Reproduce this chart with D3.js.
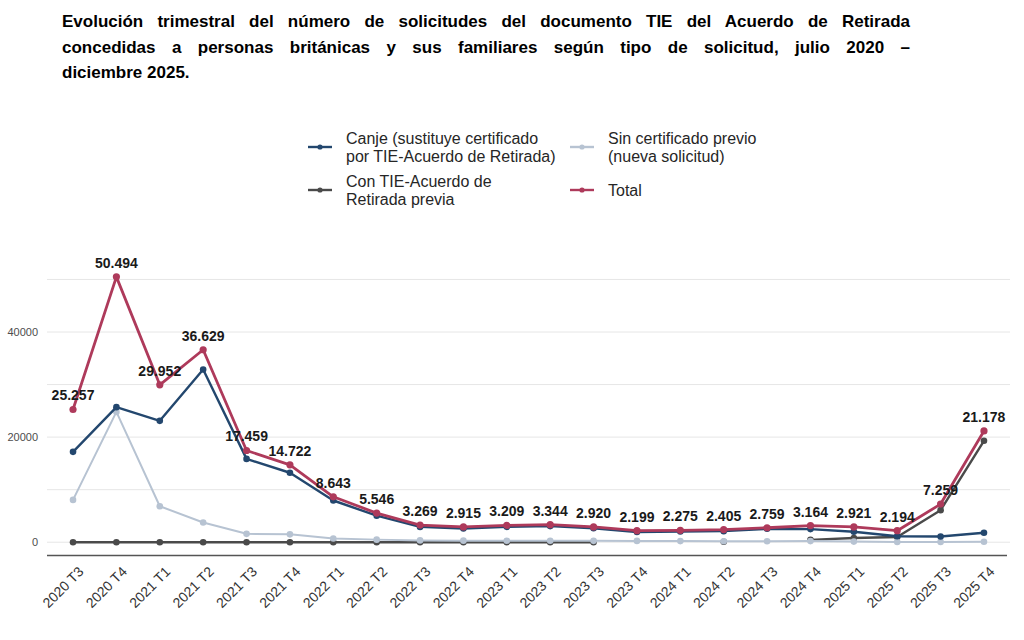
<!DOCTYPE html>
<html>
<head>
<meta charset="utf-8">
<script src="https://cdn.jsdelivr.net/npm/d3@7"></script>
<style>
    html, body { margin: 0; padding: 0; background: #fff; }
    #title {
        position: absolute;
        left: 62px;
        top: 9px;
        width: 848px;
        font-family: "Liberation Sans", Arial, sans-serif;
        font-weight: bold;
        font-size: 17px;
        line-height: 25.5px;
        color: #000;
    }
    #title .jl { text-align: justify; text-align-last: justify; }
    #chart { position: absolute; left: 0; top: 0; }
</style>
</head>
<body>
<div id="title">
    <div class="jl">Evolución trimestral del número de solicitudes del documento TIE del Acuerdo de Retirada</div>
    <div class="jl">concedidas a personas británicas y sus familiares según tipo de solicitud, julio 2020 –</div>
    <div>diciembre 2025.</div>
</div>
<div id="chart"></div>
<script>
// quarters on the x axis
const periods = ["2020 T3", "2020 T4", "2021 T1", "2021 T2", "2021 T3", "2021 T4",
    "2022 T1", "2022 T2", "2022 T3", "2022 T4", "2023 T1", "2023 T2", "2023 T3", "2023 T4",
    "2024 T1", "2024 T2", "2024 T3", "2024 T4", "2025 T1", "2025 T2", "2025 T3", "2025 T4"];

// series values (totals are labelled)
const canje = [17200, 25700, 23100, 32880, 15860, 13220, 7940, 5050, 2920, 2615, 2930, 3065,
    2660, 1950, 2055, 2105, 2560, 2500, 2000, 1150, 1100, 1800];
const sinCertificado = [8057, 24794, 6852, 3749, 1599, 1502, 703, 496, 349, 300, 279, 279,
    260, 249, 220, 200, 199, 214, 121, 44, 59, 78];
const conTie = [0, 0, 0, 0, 0, 0, 0, 0, 0, 0, 0, 0, 0, null, null, 100, null, 450, 800, 1000, 6100, 19300];
const total = [25257, 50494, 29952, 36629, 17459, 14722, 8643, 5546, 3269, 2915, 3209, 3344,
    2920, 2199, 2275, 2405, 2759, 3164, 2921, 2194, 7259, 21178];

const yTicks = [0, 20000, 40000];
const yGrid = [0, 10000, 20000, 30000, 40000, 50000];

// styling
const width = 1024;
const height = 640;
const panel = {left: 47, right: 1010, top: 263.6, bottom: 555.5};
const fontFamily = '"Liberation Sans", Arial, sans-serif';

const seriesList = [
    {key: "con", values: conTie, color: "#4a4a4a", width: 2.4, r: 3.3,
        label: ["Con TIE-Acuerdo de", "Retirada previa"]},
    {key: "sin", values: sinCertificado, color: "#b7c3d2", width: 2, r: 3.3,
        label: ["Sin certificado previo", "(nueva solicitud)"]},
    {key: "canje", values: canje, color: "#23476e", width: 2.4, r: 3.3,
        label: ["Canje (sustituye certificado", "por TIE-Acuerdo de Retirada)"]},
    {key: "total", values: total, color: "#ae3a5b", width: 2.8, r: 3.6,
        label: ["Total"]}
];

const es = d3.formatLocale({decimal: ",", thousands: ".", grouping: [3], currency: ["", " €"]});
const fmt = es.format(",d");

const svg = d3.select("#chart").append("svg")
    .attr("width", width)
    .attr("height", height)
    .style("font-family", fontFamily);

const x = d3.scalePoint()
    .domain(periods)
    .range([panel.left, panel.right])
    .padding(0.6);

const yMax = d3.max(total);
const expand = yMax * 0.05;
const y = d3.scaleLinear()
    .domain([-expand, yMax + expand])
    .range([panel.bottom, panel.top]);

// gridlines
svg.append("g")
    .selectAll("line")
    .data(yGrid)
    .join("line")
    .attr("x1", panel.left)
    .attr("x2", panel.right)
    .attr("y1", d => y(d))
    .attr("y2", d => y(d))
    .attr("stroke", "#e6e6e6")
    .attr("stroke-width", 1);

// y axis (labels only)
const yAxis = svg.append("g")
    .attr("transform", `translate(${panel.left - 9},0)`)
    .call(d3.axisLeft(y).tickValues(yTicks).tickFormat(d3.format("d")).tickSize(0).tickPadding(0));
yAxis.select(".domain").remove();
yAxis.selectAll("text")
    .attr("fill", "#4d4d4d")
    .style("font-size", "11px")
    .style("font-family", fontFamily);

// x axis
const xAxis = svg.append("g")
    .attr("transform", `translate(0,${panel.bottom})`)
    .call(d3.axisBottom(x).tickSize(0).tickPadding(0));
xAxis.select(".domain")
    .attr("d", `M${panel.left},0H${panel.right - 3}`)
    .attr("stroke", "#555")
    .attr("stroke-width", 1.3);
xAxis.selectAll("text")
    .attr("fill", "#333")
    .style("font-size", "14px")
    .style("font-family", fontFamily)
    .attr("text-anchor", "end")
    .attr("dy", null)
    .attr("y", 0)
    .attr("transform", "translate(11,17) rotate(-45)");

// lines and points
const line = d3.line()
    .defined(d => d != null)
    .x((d, i) => x(periods[i]))
    .y(d => y(d));

const marks = svg.append("g");
seriesList.forEach(s => {
    const g = marks.append("g").attr("class", "series-" + s.key);
    g.append("path")
        .datum(s.values)
        .attr("fill", "none")
        .attr("stroke", s.color)
        .attr("stroke-width", s.width)
        .attr("stroke-linejoin", "round")
        .attr("d", line);
    g.selectAll("circle")
        .data(s.values.map((v, i) => ({v, i})).filter(d => d.v != null))
        .join("circle")
        .attr("cx", d => x(periods[d.i]))
        .attr("cy", d => y(d.v))
        .attr("r", s.r)
        .attr("fill", s.color);
});

// total labels
svg.append("g")
    .selectAll("text")
    .data(total)
    .join("text")
    .attr("x", (d, i) => x(periods[i]))
    .attr("y", d => y(d) - 9)
    .attr("text-anchor", "middle")
    .attr("fill", "#1a1a1a")
    .style("font-size", "14px")
    .style("font-weight", "bold")
    .text(d => fmt(d));

// legend
const legendPos = {
    canje: {x: 308, y: 147},
    sin: {x: 570, y: 147},
    con: {x: 308, y: 190},
    total: {x: 570, y: 190}
};
const legend = svg.append("g");
seriesList.forEach(s => {
    const p = legendPos[s.key];
    const item = legend.append("g").attr("transform", `translate(${p.x},${p.y})`);
    item.append("line")
        .attr("x1", 0).attr("x2", 24)
        .attr("stroke", s.color)
        .attr("stroke-width", 2.4);
    item.append("circle")
        .attr("cx", 12)
        .attr("r", 2.6)
        .attr("fill", s.color);
    const lineGap = 18;
    const startY = -(s.label.length - 1) * lineGap / 2;
    item.selectAll("text")
        .data(s.label)
        .join("text")
        .attr("x", 38)
        .attr("y", (d, i) => startY + i * lineGap)
        .attr("dominant-baseline", "central")
        .attr("fill", "#262626")
        .style("font-size", "16px")
        .text(d => d);
});
</script>
</body>
</html>
